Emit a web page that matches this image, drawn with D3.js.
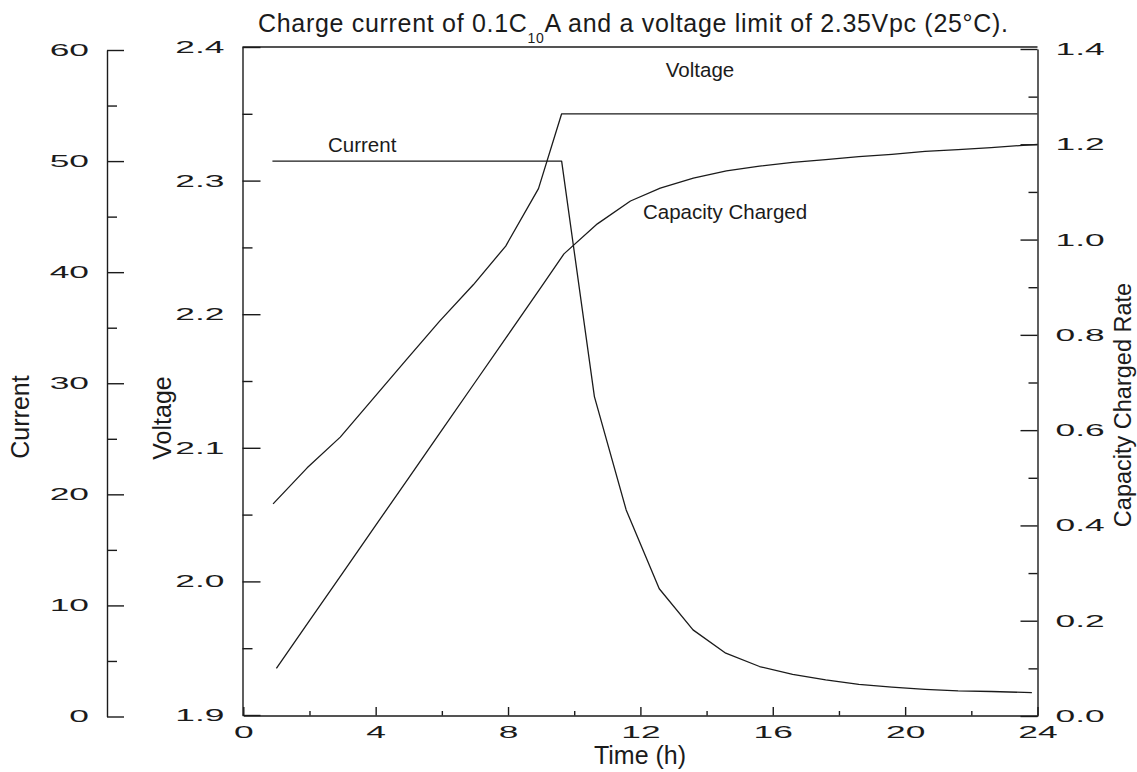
<!DOCTYPE html>
<html>
<head>
<meta charset="utf-8">
<script src="https://cdn.jsdelivr.net/npm/d3@7"></script>
<style>
  body { margin: 0; background: #fff; }
  svg { display: block; font-family: "Liberation Sans", Arial, sans-serif; }
</style>
</head>
<body>
<svg id="chart" width="1137" height="772"></svg>
<script>
// ---- tick values ----
const timeTicks = [0, 4, 8, 12, 16, 20, 24];
const timeMinor = [2, 6, 10, 14, 18, 22];
const currentTicks = [0, 10, 20, 30, 40, 50, 60];
const currentMinor = [5, 15, 25, 35, 45, 55];
const voltageTicks = [1.9, 2.0, 2.1, 2.2, 2.3, 2.4];
const voltageMinor = [1.95, 2.05, 2.15, 2.25, 2.35];
const capacityTicks = [0.0, 0.2, 0.4, 0.6, 0.8, 1.0, 1.2, 1.4];
const capacityMinor = [0.1, 0.3, 0.5, 0.7, 0.9, 1.1, 1.3];

// ---- series ----
const voltageTime   = [0.9, 1.93, 2.93, 3.93, 4.93, 5.94, 6.95, 7.93, 8.92, 9.62, 24];
const voltageValues = [2.058, 2.085, 2.108, 2.137, 2.166, 2.195, 2.222, 2.251, 2.294, 2.35, 2.35];

const currentTime   = [0.88, 9.62, 10.61, 11.57, 12.57, 13.59, 14.58, 15.6, 16.6, 17.6, 18.6, 19.6, 20.6, 21.6, 22.6, 23.83];
const currentValues = [50, 50, 28.8, 18.6, 11.5, 7.8, 5.7, 4.5, 3.8, 3.3, 2.9, 2.65, 2.45, 2.3, 2.25, 2.15];

const capacityTime   = [1, 2, 3, 4, 5, 6, 7, 8, 9, 9.69, 10.7, 11.7, 12.6, 13.6, 14.6, 15.6, 16.6, 17.6, 18.6, 19.6, 20.6, 21.6, 22.6, 24];
const capacityValues = [0.1, 0.2, 0.3, 0.4, 0.5, 0.6, 0.7, 0.8, 0.9, 0.97, 1.033, 1.081, 1.108, 1.129, 1.144, 1.154, 1.162, 1.168, 1.174, 1.179, 1.185, 1.189, 1.193, 1.2];

// ---- layout ----
const INK = "#1b1b1b";
const plotLeft = 242.5, plotRight = 1037.5, plotTop = 47, plotBottom = 715.5;
const currentAxisX = 107;
const labelFont = 17, labelStretch = 2.08;

const svg = d3.select("#chart");

const x = d3.scaleLinear().domain([0, 24]).range([plotLeft + 0.8, plotRight]);
const yVolt = d3.scaleLinear().domain([1.9, 2.4]).range([715, plotTop]);
const yCurr = d3.scaleLinear().domain([0, 60]).range([716.5, 50]);
const yCap  = d3.scaleLinear().domain([0, 1.4]).range([716, 49]);

// stretch tick labels horizontally (wide numeral face)
function styleAxis(g) {
  g.attr("font-family", "\"Liberation Sans\", Arial, sans-serif")
   .attr("font-size", labelFont);
  g.selectAll("path.domain").attr("stroke", INK).attr("stroke-width", 1.4);
  g.selectAll(".tick line").attr("stroke", INK).attr("stroke-width", 1.4);
  g.selectAll(".tick text").attr("fill", INK).each(function () {
    const t = d3.select(this);
    const tx = +t.attr("x") || 0;
    t.attr("x", tx / labelStretch).attr("transform", `scale(${labelStretch},1)`);
  });
}
function styleMinor(g) {
  g.selectAll("path.domain").remove();
  g.selectAll(".tick line").attr("stroke", INK).attr("stroke-width", 1.4);
  g.selectAll(".tick text").remove();
}

// ---- current axis (stand-alone, far left) ----
svg.append("g").attr("transform", `translate(${currentAxisX},0)`)
  .call(d3.axisLeft(yCurr).tickValues(currentTicks).tickFormat(d3.format("d"))
    .tickSizeInner(-17).tickSizeOuter(0).tickPadding(18))
  .call(styleAxis);
svg.append("g").attr("transform", `translate(${currentAxisX},0)`)
  .call(d3.axisLeft(yCurr).tickValues(currentMinor).tickSizeInner(-10).tickSizeOuter(0))
  .call(styleMinor);

// ---- voltage axis ----
svg.append("g").attr("transform", `translate(${plotLeft},0)`)
  .call(d3.axisLeft(yVolt).tickValues(voltageTicks).tickFormat(d3.format(".1f"))
    .tickSizeInner(-18).tickSizeOuter(0).tickPadding(18))
  .call(styleAxis);
svg.append("g").attr("transform", `translate(${plotLeft},0)`)
  .call(d3.axisLeft(yVolt).tickValues(voltageMinor).tickSizeInner(-10).tickSizeOuter(0))
  .call(styleMinor);

// ---- capacity axis (right) ----
svg.append("g").attr("transform", `translate(${plotRight},0)`)
  .call(d3.axisRight(yCap).tickValues(capacityTicks).tickFormat(d3.format(".1f"))
    .tickSizeInner(-17).tickSizeOuter(0).tickPadding(18))
  .call(styleAxis);
svg.append("g").attr("transform", `translate(${plotRight},0)`)
  .call(d3.axisRight(yCap).tickValues(capacityMinor).tickSizeInner(-9).tickSizeOuter(0))
  .call(styleMinor);

// ---- time axis ----
svg.append("g").attr("transform", `translate(0,${plotBottom})`)
  .call(d3.axisBottom(x).tickValues(timeTicks).tickFormat(d3.format("d"))
    .tickSizeInner(-8.5).tickSizeOuter(0).tickPadding(10))
  .call(styleAxis);
svg.append("g").attr("transform", `translate(0,${plotBottom})`)
  .call(d3.axisBottom(x).tickValues(timeMinor).tickSizeInner(-4.5).tickSizeOuter(0))
  .call(styleMinor);

// top frame line
svg.append("line")
  .attr("x1", plotLeft).attr("x2", plotRight)
  .attr("y1", plotTop).attr("y2", plotTop)
  .attr("stroke", INK).attr("stroke-width", 1.4);

// ---- curves ----
function drawSeries(times, values, yScale) {
  const pts = times.map((t, i) => [t, values[i]]);
  svg.append("path")
    .datum(pts)
    .attr("fill", "none")
    .attr("stroke", INK)
    .attr("stroke-width", 1.3)
    .attr("stroke-linejoin", "round")
    .attr("d", d3.line().x(d => x(d[0])).y(d => yScale(d[1])));
}
drawSeries(voltageTime, voltageValues, yVolt);
drawSeries(currentTime, currentValues, yCurr);
drawSeries(capacityTime, capacityValues, yCap);

// ---- in-plot series names ----
const seriesFont = 20.5;
svg.append("text").attr("x", 328).attr("y", 152).attr("font-size", seriesFont)
  .attr("fill", INK).text("Current");
svg.append("text").attr("x", 700).attr("y", 77).attr("font-size", seriesFont)
  .attr("text-anchor", "middle").attr("fill", INK).text("Voltage");
svg.append("text").attr("x", 643).attr("y", 219).attr("font-size", seriesFont)
  .attr("fill", INK).text("Capacity Charged");

// ---- axis titles ----
svg.append("text")
  .attr("transform", "translate(29,417) rotate(-90)")
  .attr("text-anchor", "middle").attr("font-size", 25).attr("fill", INK)
  .text("Current");
svg.append("text")
  .attr("transform", "translate(171,418) rotate(-90)")
  .attr("text-anchor", "middle").attr("font-size", 25).attr("fill", INK)
  .text("Voltage");
svg.append("text")
  .attr("transform", "translate(1131,405) rotate(-90)")
  .attr("text-anchor", "middle").attr("font-size", 23.5).attr("fill", INK)
  .text("Capacity Charged Rate");
svg.append("text")
  .attr("x", 640).attr("y", 764)
  .attr("text-anchor", "middle")
  .attr("font-family", "\"Liberation Sans Narrow\", \"Arial Narrow\", sans-serif")
  .attr("font-size", 25).attr("fill", INK)
  .text("Time (h)");

// ---- title with subscript ----
const title = svg.append("text")
  .attr("x", 258).attr("y", 32)
  .attr("font-size", 25).attr("fill", INK);
title.append("tspan").text("Charge current of 0.1C");
title.append("tspan").attr("font-size", 14).attr("dy", 11).text("10");
title.append("tspan").attr("dy", -11).text("A and a voltage limit of 2.35Vpc (25°C).");
// spread the title across its intended span
const titleWidth = 750;
const natural = title.node().getComputedTextLength();
const nChars = title.text().length;
if (natural < titleWidth) {
  title.attr("letter-spacing", ((titleWidth - natural) / (nChars - 1)).toFixed(3));
}
</script>
</body>
</html>
